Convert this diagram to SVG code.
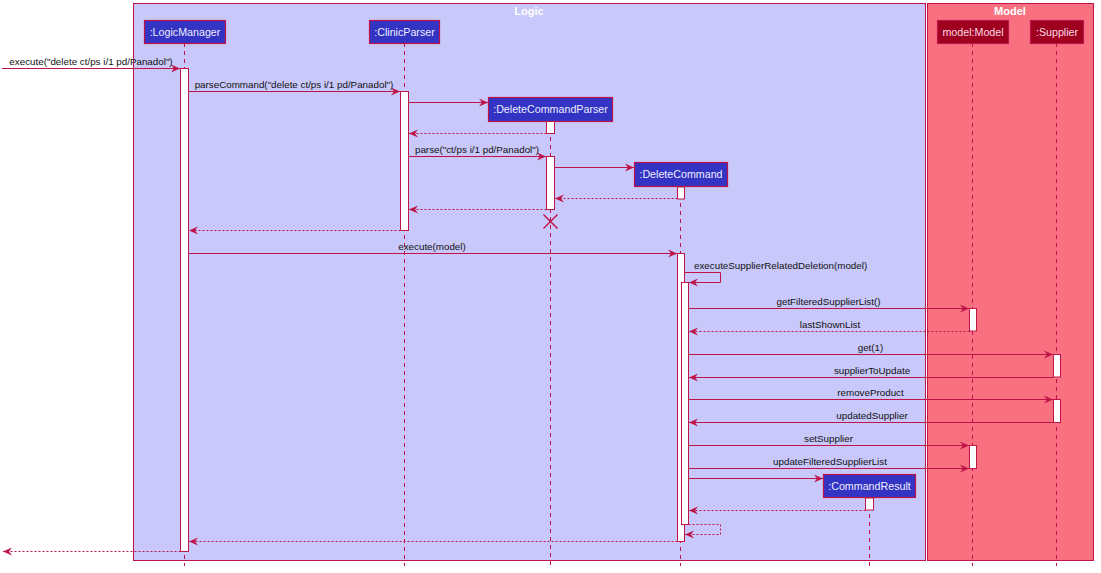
<svg xmlns="http://www.w3.org/2000/svg" width="1101" height="573" viewBox="0 0 1101 573">
  <style>
    .box-logic { fill: #C8C8FA; stroke: #BE1449; stroke-width: 1; }
    .box-model { fill: #F97181; stroke: #BE1449; stroke-width: 1; }
    .box-title { font-family: "Liberation Sans", Arial, sans-serif; font-size: 11px; font-weight: bold; fill: #FFFFFF; text-anchor: middle; }
    .p-logic { fill: #3333C4; stroke: #BE1449; stroke-width: 1.2; }
    .p-model { fill: #A00020; stroke: #BE1449; stroke-width: 1.2; }
    .p-text { font-family: "Liberation Sans", Arial, sans-serif; font-size: 10.7px; text-anchor: middle; }
    .p-text-logic { fill: #EEEEFF; }
    .p-text-model { fill: #F8DCE2; }
    .life { stroke: #BE1449; stroke-width: 1; stroke-dasharray: 4 4; fill: none; }
    .act { fill: #FFFFFF; stroke: #BE1449; stroke-width: 1; }
    .msg { stroke: #BE1449; stroke-width: 1; fill: none; marker-end: url(#ah); }
    .ret { stroke: #BE1449; stroke-width: 1; fill: none; stroke-dasharray: 2 2; marker-end: url(#ah); }
    .lbl { font-family: "Liberation Sans", Arial, sans-serif; font-size: 9.8px; fill: #111111; text-anchor: middle; }
    .lbl-start { text-anchor: start; }
    .destroy { stroke: #BE1449; stroke-width: 1.5; }
  </style>
  <defs>
    <marker id="ah" markerWidth="10" markerHeight="10" refX="9" refY="4" orient="auto" markerUnits="userSpaceOnUse" overflow="visible">
      <path d="M0,0 L9,4 L0,8 L3,4 Z" fill="#BE1449"/>
    </marker>
  </defs>

  <!-- package boxes -->
  <g id="box-logic">
    <rect class="box-logic" x="133.5" y="3.5" width="792" height="557"/>
    <text class="box-title" x="529" y="15">Logic</text>
  </g>
  <g id="box-model">
    <rect class="box-model" x="927.5" y="3.5" width="166" height="557"/>
    <text class="box-title" x="1010" y="15">Model</text>
  </g>

  <!-- lifelines -->
  <g id="lifelines">
    <line class="life" x1="184.5" y1="43" x2="184.5" y2="566"/>
    <line class="life" x1="404.5" y1="43" x2="404.5" y2="566"/>
    <line class="life" x1="550.5" y1="121" x2="550.5" y2="566"/>
    <line class="life" x1="680.5" y1="187" x2="680.5" y2="566"/>
    <line class="life" x1="869.5" y1="498" x2="869.5" y2="566"/>
    <line class="life" x1="972.5" y1="43" x2="972.5" y2="566"/>
    <line class="life" x1="1056.5" y1="43" x2="1056.5" y2="566"/>
  </g>

  <!-- participants -->
  <g id="logic-manager">
    <rect class="p-logic" x="144.5" y="20.5" width="81" height="23"/>
    <text class="p-text p-text-logic" x="185" y="35.5">:LogicManager</text>
  </g>
  <g id="clinic-parser">
    <rect class="p-logic" x="369.5" y="20.5" width="70" height="23"/>
    <text class="p-text p-text-logic" x="404.5" y="35.5">:ClinicParser</text>
  </g>
  <g id="delete-command-parser">
    <rect class="p-logic" x="488.5" y="97.5" width="124" height="24"/>
    <text class="p-text p-text-logic" x="550.5" y="113">:DeleteCommandParser</text>
  </g>
  <g id="delete-command">
    <rect class="p-logic" x="634.5" y="162.5" width="93" height="24"/>
    <text class="p-text p-text-logic" x="681" y="178">:DeleteCommand</text>
  </g>
  <g id="command-result">
    <rect class="p-logic" x="823.5" y="474.5" width="92" height="23"/>
    <text class="p-text p-text-logic" x="869.5" y="489.5">:CommandResult</text>
  </g>
  <g id="model">
    <rect class="p-model" x="937.5" y="20.5" width="71" height="23"/>
    <text class="p-text p-text-model" x="973" y="35.5">model:Model</text>
  </g>
  <g id="supplier">
    <rect class="p-model" x="1030.5" y="20.5" width="53" height="23"/>
    <text class="p-text p-text-model" x="1057" y="35.5">:Supplier</text>
  </g>

  <!-- activation bars -->
  <g id="activations">
    <rect class="act" x="180.5" y="68.5" width="8" height="483"/>
    <rect class="act" x="400.5" y="91.5" width="8" height="139"/>
    <rect class="act" x="546.5" y="121.5" width="8" height="12"/>
    <rect class="act" x="546.5" y="156.5" width="8" height="53"/>
    <rect class="act" x="677.5" y="187" width="7" height="12"/>
    <rect class="act" x="677.5" y="253.5" width="7" height="288"/>
    <rect class="act" x="681.5" y="282.5" width="7" height="242"/>
    <rect class="act" x="969.5" y="308.5" width="7" height="22.5"/>
    <rect class="act" x="969.5" y="445.5" width="7" height="23"/>
    <rect class="act" x="1053.5" y="354.5" width="7" height="22.5"/>
    <rect class="act" x="1053.5" y="399.5" width="7" height="23"/>
    <rect class="act" x="865.5" y="498" width="8" height="12"/>
  </g>

  <!-- connectors -->
  <g id="connectors">
    <line class="msg" x1="2" y1="68.5" x2="180" y2="68.5"/>
    <text class="lbl" x="91" y="64.5">execute("delete ct/ps i/1 pd/Panadol")</text>

    <line class="msg" x1="188.5" y1="91.5" x2="400" y2="91.5"/>
    <text class="lbl" x="294" y="87.5">parseCommand("delete ct/ps i/1 pd/Panadol")</text>

    <line class="msg" x1="408.5" y1="102.5" x2="488" y2="102.5"/>
    <line class="ret" x1="546.5" y1="133.5" x2="409" y2="133.5"/>

    <line class="msg" x1="408.5" y1="156.5" x2="546" y2="156.5"/>
    <text class="lbl" x="477" y="152.5">parse("ct/ps i/1 pd/Panadol")</text>

    <line class="msg" x1="554.5" y1="167.5" x2="634" y2="167.5"/>
    <line class="ret" x1="677.5" y1="198.5" x2="555" y2="198.5"/>
    <line class="ret" x1="546.5" y1="209.5" x2="409" y2="209.5"/>

    <line class="destroy" x1="543.5" y1="214.5" x2="557.5" y2="228.5"/>
    <line class="destroy" x1="557.5" y1="214.5" x2="543.5" y2="228.5"/>

    <line class="ret" x1="400.5" y1="230.5" x2="189" y2="230.5"/>

    <line class="msg" x1="188.5" y1="253.5" x2="677" y2="253.5"/>
    <text class="lbl" x="432" y="249.5">execute(model)</text>

    <polyline class="msg" points="684.5,272.5 720.5,272.5 720.5,282.5 689,282.5"/>
    <text class="lbl lbl-start" x="694" y="268.5">executeSupplierRelatedDeletion(model)</text>

    <line class="msg" x1="688.5" y1="308.5" x2="969" y2="308.5"/>
    <text class="lbl" x="828.5" y="304.5">getFilteredSupplierList()</text>

    <line class="ret" x1="969.5" y1="331.5" x2="689" y2="331.5"/>
    <text class="lbl" x="830" y="327.5">lastShownList</text>

    <line class="msg" x1="688.5" y1="354.5" x2="1053" y2="354.5"/>
    <text class="lbl" x="870.5" y="350.5">get(1)</text>

    <line class="msg" x1="1053.5" y1="377.5" x2="689" y2="377.5"/>
    <text class="lbl" x="872" y="373.5">supplierToUpdate</text>

    <line class="msg" x1="688.5" y1="399.5" x2="1053" y2="399.5"/>
    <text class="lbl" x="870.5" y="395.5">removeProduct</text>

    <line class="msg" x1="1053.5" y1="422.5" x2="689" y2="422.5"/>
    <text class="lbl" x="872" y="418.5">updatedSupplier</text>

    <line class="msg" x1="688.5" y1="445.5" x2="969" y2="445.5"/>
    <text class="lbl" x="828.5" y="441.5">setSupplier</text>

    <line class="msg" x1="688.5" y1="468.5" x2="969" y2="468.5"/>
    <text class="lbl" x="830" y="464.5">updateFilteredSupplierList</text>

    <line class="msg" x1="688.5" y1="478.5" x2="823" y2="478.5"/>
    <line class="ret" x1="865.5" y1="510.5" x2="689" y2="510.5"/>

    <polyline class="ret" points="688.5,524.5 720.5,524.5 720.5,534.5 685,534.5"/>

    <line class="ret" x1="677.5" y1="541.5" x2="189" y2="541.5"/>
    <line class="ret" x1="180.5" y1="551.5" x2="3" y2="551.5"/>
  </g>
</svg>
